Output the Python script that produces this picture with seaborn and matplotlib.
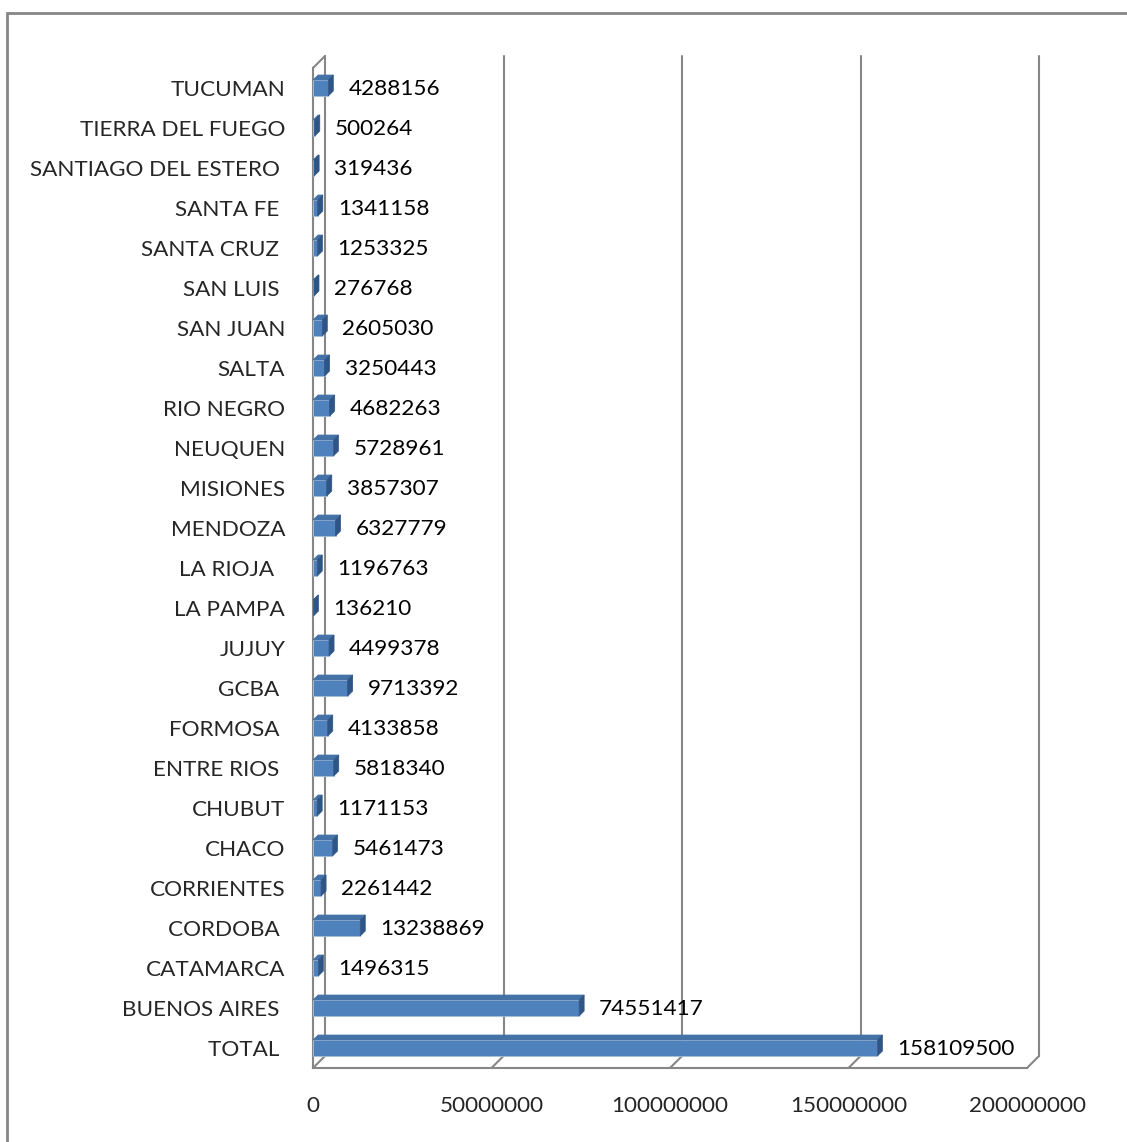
import numpy as np
import pandas as pd
import matplotlib
matplotlib.use("Agg")
import matplotlib.pyplot as plt
from matplotlib.patches import Polygon, Rectangle
import seaborn as sns

# datos (de abajo hacia arriba, como en la planilla)
provincias = ["TOTAL ", "BUENOS AIRES ", "CATAMARCA", "CORDOBA ", "CORRIENTES",
              "CHACO", "CHUBUT", "ENTRE RIOS ", "FORMOSA ", "GCBA ", "JUJUY",
              "LA PAMPA", "LA RIOJA  ", "MENDOZA", "MISIONES", "NEUQUEN",
              "RIO NEGRO", "SALTA", "SAN JUAN", "SAN LUIS ", "SANTA CRUZ ",
              "SANTA FE ", "SANTIAGO DEL ESTERO ", "TIERRA DEL FUEGO", "TUCUMAN"]
valores = [158109500, 74551417, 1496315, 13238869, 2261442,
           5461473, 1171153, 5818340, 4133858, 9713392, 4499378,
           136210, 1196763, 6327779, 3857307, 5728961,
           4682263, 3250443, 2605030, 276768, 1253325,
           1341158, 319436, 500264, 4288156]
x_ticks = [0, 50000000, 100000000, 150000000, 200000000]

df = pd.DataFrame({"provincia": provincias, "valor": valores})

sns.set_style("white")
plt.rcParams["font.family"] = ["Lato", "DejaVu Sans"]
fs = 16.2

gris = "#868686"
azul = "#4F81BD"
azul_top = "#4471A6"
azul_lado = "#2E5585"

W, H = 1127, 1142
fig = plt.figure(figsize=(W / 100, H / 100), dpi=100)
ax = fig.add_axes([313 / W, (H - 1068) / H, 714 / W, 1000 / H])

# marco exterior
fig.patches.append(Rectangle((7 / W, -0.1), 1.2, 1 - 13 / H + 0.1,
                             transform=fig.transFigure, fill=False,
                             edgecolor=gris, lw=2))

sns.barplot(data=df, x="valor", y="provincia", orient="h", color=azul,
            saturation=1, width=0.4, edgecolor="#A7BEDD", linewidth=0.6,
            ax=ax, zorder=3)

ax.set_xlim(0, 200000000)
ax.set_ylim(-0.5, len(provincias) - 0.5)

# profundidad en unidades de datos
ppx = ax.bbox.width / 200000000
ppy = ax.bbox.height / len(provincias)
prof_x, prof_y = 12 / ppx, 12 / ppy
bar_x, bar_y = 5 / ppx, 5 / ppy

# pared del fondo y piso
top = len(provincias) - 0.5
for t in x_ticks:
    ax.plot([t + prof_x, t + prof_x], [-0.5 + prof_y, top + prof_y],
            color=gris, lw=1.5, clip_on=False, zorder=1)
    ax.plot([t, t + prof_x], [-0.5, -0.5 + prof_y],
            color=gris, lw=1.5, clip_on=False, zorder=1)
ax.plot([0, prof_x], [top, top + prof_y], color=gris, lw=1.5,
        clip_on=False, zorder=1)

# caras 3D de las barras
for p in ax.patches:
    x0, y0 = p.get_x(), p.get_y()
    w, h = p.get_width(), p.get_height()
    cara_sup = Polygon([(x0, y0 + h), (x0 + w, y0 + h),
                        (x0 + w + bar_x, y0 + h + bar_y), (x0 + bar_x, y0 + h + bar_y)],
                       closed=True, facecolor=azul_top, edgecolor=azul_top,
                       lw=0.5, zorder=3, clip_on=False)
    cara_lado = Polygon([(x0 + w, y0), (x0 + w + bar_x, y0 + bar_y),
                         (x0 + w + bar_x, y0 + h + bar_y), (x0 + w, y0 + h)],
                        closed=True, facecolor=azul_lado, edgecolor=azul_lado,
                        lw=0.5, zorder=3, clip_on=False)
    ax.add_patch(cara_sup)
    ax.add_patch(cara_lado)

# etiquetas de valores
for i, v in enumerate(valores):
    ax.annotate(str(v), (v, i), xytext=(20, -1), textcoords="offset pixels",
                ha="left", va="center", fontsize=fs, color="black",
                annotation_clip=False)

# ejes
for s in ["top", "right"]:
    ax.spines[s].set_visible(False)
for s in ["left", "bottom"]:
    ax.spines[s].set_color(gris)
    ax.spines[s].set_linewidth(1.5)
ax.set_xlabel("")
ax.set_ylabel("")
ax.set_xticks(x_ticks)
ax.set_xticklabels([str(t) for t in x_ticks])
ax.tick_params(axis="x", direction="out", length=6, width=1.5, color=gris,
               pad=14, labelsize=fs)
ax.set_yticks(range(len(provincias)))
ax.set_yticklabels(provincias)
ax.tick_params(axis="y", which="major", length=0, pad=20, labelsize=fs)
ax.set_yticks(np.arange(-0.5, len(provincias), 1), minor=True)
ax.tick_params(axis="y", which="minor", direction="out", length=8,
               width=1.5, color=gris)
ax.grid(False)

fig.savefig("out.png", dpi=100)
